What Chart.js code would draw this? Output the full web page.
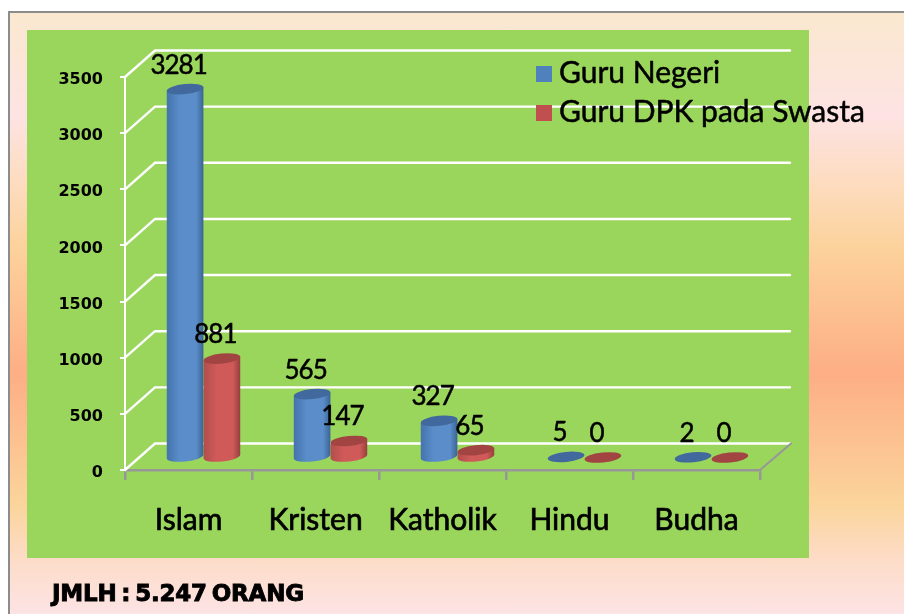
<!DOCTYPE html>
<html><head><meta charset="utf-8">
<style>
html,body{margin:0;padding:0;width:904px;height:614px;overflow:hidden;background:#fff}
#bg{position:absolute;left:8px;top:11px;width:896px;height:603px;box-sizing:border-box;border-left:2px solid #8c8c8c;border-top:2px solid #8c8c8c;
background:linear-gradient(to bottom,#fae8cf 0,#fde3e3 17%,#fddcc0 28%,#fcd29c 39%,#fdae85 60%,#fbd59c 82%,#fddcc8 91%,#fce3e4 100%)}
#panel{position:absolute;left:27px;top:30px;width:782px;height:528px;background:#9ad65c}
#foot{position:absolute;left:52px;top:580px;font:bold 23px "DejaVu Sans";color:#000;-webkit-text-stroke:.9px #000;white-space:nowrap;letter-spacing:-.2px;word-spacing:-3px}
canvas{position:absolute;left:0;top:0}
</style>
<script src="https://cdn.jsdelivr.net/npm/chart.js@4"></script>
</head><body>
<div id="bg"></div><div id="panel"></div>
<canvas id="c" width="904" height="614"></canvas>
<div id="foot">JMLH : 5.247 ORANG</div>
<script>
const categories=["Islam","Kristen","Katholik","Hindu","Budha"];
const guruNegeri=[3281,565,327,5,2];
const guruDpk=[881,147,65,0,0];
const seriesNames=["Guru Negeri","Guru DPK pada Swasta"];
const yTicks=[0,500,1000,1500,2000,2500,3000,3500];
const FONT='Lato, "Noto Sans", sans-serif';
const DEPTH_X=30,DEPTH_Y=26.5,BAR_X=15,BAR_Y=12.5,ROT=-6*Math.PI/180;
const looks=[
 {edgeL:"#4473ad",mid:"#5a8dc9",edgeR:"#3a6393",top:"#41699d",key:"#4f81bd"},
 {edgeL:"#b04e4b",mid:"#cf5a58",edgeR:"#943f3d",top:"#a14442",key:"#c0504d"}
];
function cylinder(ctx,bar,look){
  const cx=bar.x+BAR_X,top=bar.y-BAR_Y,base=bar.base-BAR_Y,rx=bar.width/2,ry=5;
  const dx=rx*Math.cos(ROT),dy=rx*Math.sin(ROT);
  if(base-top>1){
    const g=ctx.createLinearGradient(cx-rx,0,cx+rx,0);
    g.addColorStop(0,look.edgeL);g.addColorStop(.35,look.mid);
    g.addColorStop(.8,look.mid);g.addColorStop(1,look.edgeR);
    ctx.beginPath();
    ctx.moveTo(cx-dx,top-dy);
    ctx.lineTo(cx-dx,base-dy);
    ctx.ellipse(cx,base,rx,ry,ROT,Math.PI,0,true);
    ctx.lineTo(cx+dx,top+dy);
    ctx.closePath();ctx.fillStyle=g;ctx.fill();
  }
  ctx.beginPath();ctx.ellipse(cx,top,rx,ry,ROT,0,Math.PI*2);ctx.fillStyle=look.top;ctx.fill();
}
function boldText(ctx,text,x,y,w){
  ctx.lineWidth=w;ctx.strokeStyle="#000";ctx.lineJoin="round";
  ctx.strokeText(text,x,y);ctx.fillText(text,x,y);
}
const scene={id:"scene",
 beforeDatasetsDraw(chart){
  const ctx=chart.ctx,a=chart.chartArea,y=chart.scales.y;
  ctx.save();
  ctx.lineCap="round";
  ctx.strokeStyle="#ffffff";ctx.lineWidth=2.4;
  yTicks.forEach(v=>{const p=y.getPixelForValue(v);
    ctx.beginPath();ctx.moveTo(a.left,p);ctx.lineTo(a.left+DEPTH_X,p-DEPTH_Y);ctx.lineTo(a.right+DEPTH_X,p-DEPTH_Y);ctx.stroke();});
  ctx.strokeStyle="#979797";ctx.lineWidth=2;
  ctx.beginPath();ctx.moveTo(a.right,a.bottom);ctx.lineTo(a.right+DEPTH_X+1,a.bottom-DEPTH_Y);ctx.stroke();
  chart.data.datasets.forEach((ds,i)=>{
    chart.getDatasetMeta(i).data.forEach(bar=>cylinder(ctx,bar,looks[i]));
  });
  ctx.fillStyle="#000";ctx.font="26px "+FONT;ctx.textAlign="center";ctx.textBaseline="alphabetic";
  ctx.letterSpacing="-1px";
  chart.data.datasets.forEach((ds,i)=>{
    chart.getDatasetMeta(i).data.forEach((bar,j)=>{
      boldText(ctx,String(ds.data[j]),bar.x+BAR_X-6.5,bar.y-BAR_Y-15.5,.5);
    });
  });
  ctx.letterSpacing="0px";ctx.font="30px "+FONT;ctx.textAlign="left";
  seriesNames.forEach((n,i)=>{
    const ky=66+i*39;
    ctx.fillStyle=looks[i].key;ctx.fillRect(536,ky,16,16);
    ctx.fillStyle="#000";boldText(ctx,n,559,ky+17,.5);
  });
  ctx.restore();
  return false;
 }
};
new Chart(document.getElementById("c"),{
 type:"bar",
 data:{labels:categories,datasets:[
  {label:seriesNames[0],data:guruNegeri,backgroundColor:looks[0].key},
  {label:seriesNames[1],data:guruDpk,backgroundColor:looks[1].key}
 ]},
 plugins:[scene],
 options:{
  responsive:false,animation:false,
  categoryPercentage:.58,barPercentage:1,
  layout:{padding:{left:0,right:144,top:77,bottom:0}},
  plugins:{legend:{display:false},tooltip:{enabled:false}},
  scales:{
   y:{min:0,max:3500,
      afterFit(s){s.width=125;},
      afterBuildTicks(s){s.ticks=yTicks.map(v=>({value:v}));},
      border:{color:"#ffffff",width:2},
      grid:{drawOnChartArea:false,drawTicks:true,tickLength:5,tickColor:"#ffffff",lineWidth:2},
      ticks:{color:"#000",padding:17,labelOffset:3,callback:v=>String(v),font:{family:"DejaVu Sans",size:16,weight:"bold"}}},
   x:{afterFit(s){s.height=144;},
      border:{color:"#979797",width:2.5},
      grid:{drawOnChartArea:false,drawTicks:true,tickLength:10,tickColor:"#979797",lineWidth:2.5},
      ticks:{color:"#000",padding:22,maxRotation:0,textStrokeColor:"#000",textStrokeWidth:.7,font:{family:"Lato",size:30}}}
  }
 }
});
</script>
</body></html>
